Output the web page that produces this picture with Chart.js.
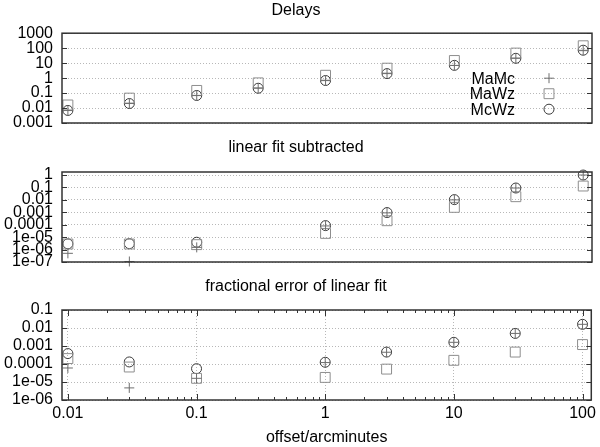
<!DOCTYPE html>
<html lang="en">
<head>
  <meta charset="UTF-8" />
  <title>Delays</title>
  <script src="https://cdn.jsdelivr.net/npm/chart.js"></script>
  <style>
    body { margin: 0; background: #fff; overflow: hidden; }
    .wrap { position: relative; width: 600px; height: 447px; }
    .wrap canvas { position: absolute; left: 0; }
  </style>
</head>
<body>
  <div class="wrap">
    <canvas id="delayChart" width="600" height="143" style="top:0px"></canvas>
    <canvas id="fitChart" width="600" height="152" style="top:130px"></canvas>
    <canvas id="fracChart" width="600" height="182" style="top:265px"></canvas>
  </div>

  <script>
    // offsets (arcminutes)
    const offsets = [0.01, 0.03, 0.1, 0.3, 1, 3, 10, 30, 100];

    // Delays
    const delayMaMc = [0.0068, 0.020, 0.068, 0.21, 0.68, 2.0, 7.0, 21, 72];
    const delayMaWz = [0.016, 0.046, 0.15, 0.48, 1.55, 4.6, 15, 47, 145];
    const delayMcWz = [0.0069, 0.020, 0.069, 0.21, 0.69, 2.0, 7.1, 21, 73];

    // linear fit subtracted (no points at 0.3)
    const fitMaMc = [5e-7, 1.1e-7, 1.5e-6, null, 8e-5, 9e-4, 1.0e-2, 9e-2, 1.0];
    const fitMaWz = [2.8e-6, 2.8e-6, 2.5e-6, null, 2e-5, 2.1e-4, 2.5e-3, 1.8e-2, 1.3e-1];
    const fitMcWz = [2.9e-6, 3.0e-6, 3.9e-6, null, 8.5e-5, 9.5e-4, 1.05e-2, 9e-2, 1.0];

    // fractional error of linear fit
    const fracMaMc = [6e-5, 4.7e-6, 1.6e-5, null, 1.2e-4, 4.5e-4, 1.6e-3, 5e-3, 1.6e-2];
    const fracMaWz = [2e-4, 6.8e-5, 1.6e-5, null, 1.8e-5, 5.2e-5, 1.6e-4, 4.6e-4, 1.2e-3];
    const fracMcWz = [3.8e-4, 1.3e-4, 5.5e-5, null, 1.25e-4, 4.6e-4, 1.6e-3, 5e-3, 1.6e-2];

    // tick values and labels
    const offsetTicks = [0.01, 0.1, 1, 10, 100];
    const offsetLabels = ['0.01', '0.1', '1', '10', '100'];
    const delayTicks = [0.001, 0.01, 0.1, 1, 10, 100, 1000];
    const delayLabels = ['0.001', '0.01', '0.1', '1', '10', '100', '1000'];
    const fitTicks = [1e-7, 1e-6, 1e-5, 1e-4, 1e-3, 1e-2, 1e-1, 1];
    const fitLabels = ['1e-07', '1e-06', '1e-05', '0.0001', '0.001', '0.01', '0.1', '1'];
    const fracTicks = [1e-6, 1e-5, 1e-4, 1e-3, 1e-2, 1e-1];
    const fracLabels = ['1e-06', '1e-05', '0.0001', '0.001', '0.01', '0.1'];

    const seriesNames = ['MaMc', 'MaWz', 'McWz'];

    Chart.defaults.font.family = '"Liberation Sans", Arial, Helvetica, sans-serif';
    Chart.defaults.font.size = 16;
    Chart.defaults.color = '#000';

    const markers = [
      { pointStyle: 'cross', radius: 5, color: '#6e6e6e' },
      { pointStyle: 'rect', radius: 7, color: '#8e8e8e' },
      { pointStyle: 'circle', radius: 5, color: '#3a3a3a' }
    ];
    const gridColor = '#b8b8b8';

    function toPoints(ys) {
      return offsets.map((x, i) => ({ x: x, y: ys[i] })).filter(p => p.y !== null);
    }

    function drawMarker(ctx, style, x, y, r) {
      ctx.beginPath();
      if (style === 'cross') {
        ctx.moveTo(x - r, y); ctx.lineTo(x + r, y);
        ctx.moveTo(x, y - r); ctx.lineTo(x, y + r);
      } else if (style === 'rect') {
        const s = r * Math.SQRT1_2;
        ctx.rect(x - s, y - s, 2 * s, 2 * s);
      } else {
        ctx.arc(x, y, r, 0, Math.PI * 2);
      }
      ctx.stroke();
    }

    // gnuplot style frame + inward tics
    const frameTics = {
      id: 'frameTics',
      afterDatasetsDraw(chart, args, opts) {
        const { ctx, chartArea: a, scales } = chart;
        ctx.save();
        ctx.strokeStyle = '#333';
        ctx.lineWidth = 1;
        ctx.beginPath();
        scales.y.ticks.forEach(t => {
          const y = Math.round(scales.y.getPixelForValue(t.value)) + 0.5;
          ctx.moveTo(a.left, y); ctx.lineTo(a.left + 5, y);
          ctx.moveTo(a.right, y); ctx.lineTo(a.right - 5, y);
        });
        if (opts.xTics) {
          const xs = scales.x;
          offsetTicks.forEach(d => {
            for (let m = 1; m < 10; m++) {
              const v = d * m;
              if (v < xs.min || v > xs.max) continue;
              const px = Math.round(xs.getPixelForValue(v)) + 0.5;
              const len = m === 1 ? 6 : 3;
              ctx.moveTo(px, a.bottom); ctx.lineTo(px, a.bottom - len);
              ctx.moveTo(px, a.top); ctx.lineTo(px, a.top + len);
            }
          });
        }
        ctx.stroke();
        ctx.lineWidth = 1.5;
        ctx.strokeRect(a.left, a.top, a.right - a.left, a.bottom - a.top);
        ctx.restore();
      }
    };

    // key drawn inside the top panel, text left of the symbol
    const insideKey = {
      id: 'insideKey',
      afterDraw(chart, args, opts) {
        if (!opts.show) return;
        const { ctx, chartArea: a } = chart;
        ctx.save();
        ctx.font = '16px "Liberation Sans", Arial, sans-serif';
        ctx.textAlign = 'right';
        ctx.textBaseline = 'middle';
        ctx.lineWidth = 1;
        chart.data.datasets.forEach((ds, i) => {
          const y = a.top + 45 + i * 15.5;
          ctx.fillStyle = '#000';
          ctx.fillText(ds.label, a.right - 77, y + 1);
          ctx.strokeStyle = ds.borderColor;
          drawMarker(ctx, ds.pointStyle, a.right - 43, y, ds.pointRadius);
        });
        ctx.restore();
      }
    };

    function makeChart(id, cfg) {
      const datasets = cfg.series.map((ys, i) => ({
        label: seriesNames[i],
        data: toPoints(ys),
        pointStyle: markers[i].pointStyle,
        pointRadius: markers[i].radius,
        pointHoverRadius: markers[i].radius,
        borderColor: markers[i].color,
        backgroundColor: 'rgba(0,0,0,0)',
        borderWidth: 1,
        showLine: false,
        clip: false
      }));

      return new Chart(document.getElementById(id), {
        type: 'scatter',
        data: { datasets: datasets },
        plugins: [frameTics, insideKey],
        options: {
          responsive: false,
          animation: false,
          devicePixelRatio: 1,
          layout: { padding: { left: 0, right: 8, top: 0, bottom: cfg.bottomPad } },
          plugins: {
            legend: { display: false },
            tooltip: { enabled: false },
            title: {
              display: true,
              text: cfg.title,
              color: '#000',
              font: { size: 16, weight: 'normal' },
              padding: cfg.titlePad
            },
            frameTics: { xTics: cfg.showX },
            insideKey: { show: !!cfg.key }
          },
          scales: {
            x: {
              type: 'logarithmic',
              min: 0.009,
              max: 117,
              display: cfg.showX,
              afterBuildTicks: s => { s.ticks = offsetTicks.map(v => ({ value: v })); },
              afterFit: s => { if (cfg.showX) s.height = 47; },
              ticks: {
                autoSkip: false,
                maxRotation: 0,
                padding: 4,
                color: '#000',
                callback: (v, i) => offsetLabels[i]
              },
              grid: { color: gridColor, drawTicks: false, lineWidth: 1 },
              border: { display: false, dash: [1, 2] },
              title: {
                display: cfg.showX,
                text: 'offset/arcminutes',
                color: '#000',
                font: { size: 16 },
                padding: { top: 0, bottom: 0 }
              }
            },
            y: {
              type: 'logarithmic',
              min: cfg.yMin,
              max: cfg.yMax,
              afterBuildTicks: s => { s.ticks = cfg.yTicks.map(v => ({ value: v })); },
              afterFit: s => { s.width = 62; },
              ticks: {
                autoSkip: false,
                padding: 9,
                color: '#000',
                callback: (v, i) => cfg.yLabels[i]
              },
              grid: { color: gridColor, drawTicks: false, lineWidth: 1 },
              border: { display: false, dash: [1, 2] }
            }
          }
        }
      });
    }

    makeChart('delayChart', {
      title: 'Delays',
      titlePad: { top: 1, bottom: 13 },
      bottomPad: 20,
      series: [delayMaMc, delayMaWz, delayMcWz],
      yMin: 0.001, yMax: 1000,
      yTicks: delayTicks, yLabels: delayLabels,
      showX: false,
      key: true
    });

    makeChart('fitChart', {
      title: 'linear fit subtracted',
      titlePad: { top: 8, bottom: 14.8 },
      bottomPad: 20,
      series: [fitMaMc, fitMaWz, fitMcWz],
      yMin: 1e-7, yMax: 1.75,
      yTicks: fitTicks, yLabels: fitLabels,
      showX: false
    });

    makeChart('fracChart', {
      title: 'fractional error of linear fit',
      titlePad: { top: 12, bottom: 13.8 },
      bottomPad: 0,
      series: [fracMaMc, fracMaWz, fracMcWz],
      yMin: 1e-6, yMax: 0.1,
      yTicks: fracTicks, yLabels: fracLabels,
      showX: true
    });
  </script>
</body>
</html>
